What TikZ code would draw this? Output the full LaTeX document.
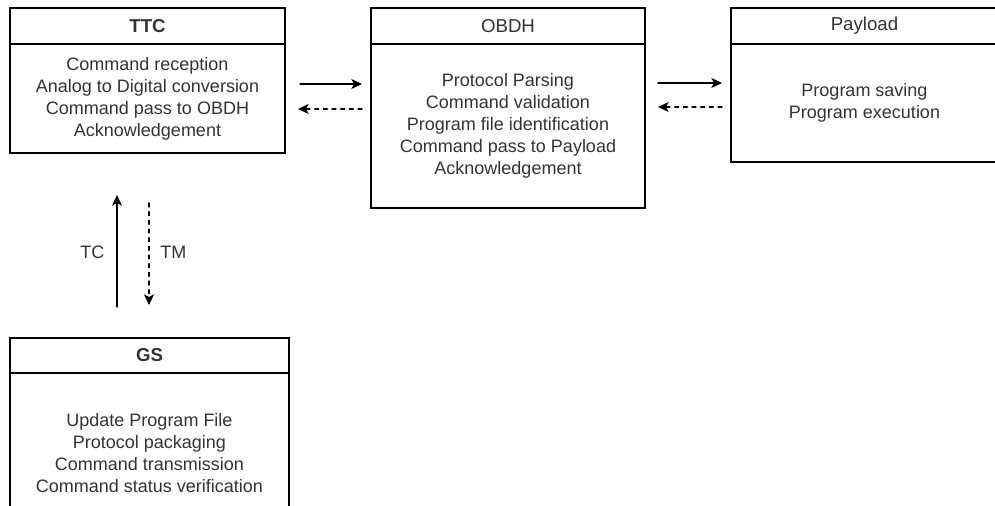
\documentclass[tikz,border=0pt]{standalone}
\usepackage{fontspec}
\setmainfont{Liberation Sans}
\usepackage{tikz}
\usetikzlibrary{arrows.meta}
\usetikzlibrary{positioning}
\tikzset{>={Stealth[length=8pt,width=7.5pt,inset=2pt]}}
\definecolor{txtgray}{HTML}{333333}
\tikzset{
  headbox/.style={draw, rectangle, line width=0.9pt, inner sep=0pt, outer sep=0pt,
    text=txtgray, font=\fontsize{14}{16}\selectfont},
  bodybox/.style={draw, rectangle, line width=0.9pt, inner sep=0pt, outer sep=0pt,
    align=center, text=txtgray, font=\fontsize{13.5}{16.5}\selectfont},
  lbl/.style={inner sep=0pt, text=txtgray, font=\fontsize{13.5}{16}\selectfont},
  flowline/.style={->, line width=0.9pt},
  backline/.style={->, line width=0.9pt, dash pattern=on 3pt off 3.5pt},
}

\begin{document}
\begin{tikzpicture}[x=0.75pt,y=-0.75pt,line cap=round]
  \useasboundingbox (0,0) rectangle (995,506);

  % TTC
  \node [headbox, minimum width=206.25pt, minimum height=27pt,
    font=\fontsize{14}{16}\selectfont\bfseries] (ttc) at (147.5,26) {TTC};
  \node [bodybox, minimum width=206.25pt, minimum height=81.75pt, below=0pt of ttc] (ttcb)
    {Command reception\\Analog to Digital conversion\\Command pass to OBDH\\Acknowledgement};

  % OBDH
  \node [headbox, minimum width=205.5pt, minimum height=27pt] (obdh) at (508,26) {OBDH};
  \node [bodybox, minimum width=205.5pt, minimum height=123pt, below=0pt of obdh] (obdhb)
    {Protocol Parsing\\Command validation\\Program file identification\\Command pass to Payload\\Acknowledgement};

  % Payload
  \node [headbox, minimum width=200.25pt, minimum height=27pt] (pay) at (864.5,26) {Payload};
  \node [bodybox, minimum width=200.25pt, minimum height=88.5pt, below=0pt of pay] (payb)
    {Program saving\\Program execution};

  % GS
  \node [headbox, minimum width=209.25pt, minimum height=26.25pt,
    font=\fontsize{14}{16}\selectfont\bfseries] (gs) at (149.5,355.5) {GS};
  \node [bodybox, minimum width=209.25pt, minimum height=120pt, below=0pt of gs] (gsb)
    {Update Program File\\Protocol packaging\\Command transmission\\Command status verification};

  % links
  \draw [flowline, shorten <=11.25pt, shorten >=6.75pt] (ttcb.east |- 0,84) -- (obdhb.west |- 0,84);
  \draw [backline, shorten <=6.75pt, shorten >=9.75pt] (obdhb.west |- 0,109) -- (ttcb.east |- 0,109);

  \draw [flowline, shorten <=9.75pt, shorten >=6.75pt] (obdhb.east |- 0,83) -- (payb.west |- 0,83);
  \draw [backline, shorten <=6.75pt, shorten >=9.75pt] (payb.west |- 0,107) -- (obdhb.east |- 0,107);

  \draw [flowline, shorten <=23.25pt, shorten >=31.5pt] (gs.north -| 117,0) -- (ttcb.south -| 117,0)
    node [lbl, pos=0.465, left=9pt] (tclab) {TC};
  \draw [backline, shorten <=37.5pt, shorten >=24.75pt] (ttcb.south -| 149,0) -- (gs.north -| 149,0)
    node [lbl, pos=0.535, right=8pt] (tmlab) {TM};

\end{tikzpicture}
\end{document}
